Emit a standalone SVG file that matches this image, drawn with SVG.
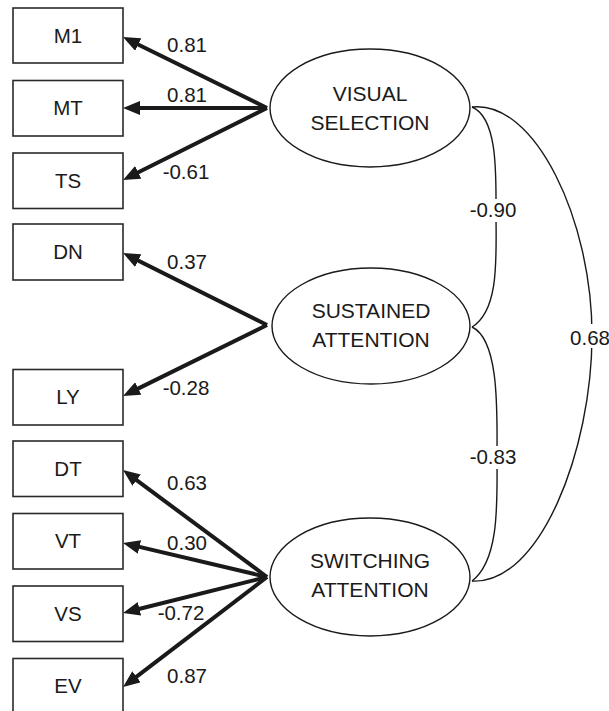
<svg xmlns="http://www.w3.org/2000/svg" width="609" height="711" viewBox="0 0 609 711">
<style>
.box{fill:#fff;stroke:#2a2a2a;stroke-width:1.6}
.lat{fill:#fff;stroke:#1a1a1a;stroke-width:1.4}
.t{font-family:"Liberation Sans",Arial,sans-serif;font-size:20.5px;fill:#1a1a1a;text-anchor:middle}
.lt{font-family:"Liberation Sans",Arial,sans-serif;font-size:21px;fill:#1a1a1a;text-anchor:middle}
.arr{fill:none;stroke:#1a1a1a;stroke-width:4;marker-end:url(#ah)}
.cor{fill:none;stroke:#1a1a1a;stroke-width:1.4}
.bg{fill:#fff}
</style>
<defs>
<marker id="ah" viewBox="0 0 17 14" markerWidth="17" markerHeight="14" markerUnits="userSpaceOnUse" refX="11" refY="7" orient="auto">
<path d="M0,0 L17,7 L0,14 z" fill="#1a1a1a"/>
</marker>
</defs>
<g id="connectors">
<path class="arr" d="M267,108 L128.4,39.7"/>
<path class="arr" d="M267,108 L129,108"/>
<path class="arr" d="M267,108 L128.4,177.3"/>
<path class="arr" d="M267,325 L128.4,255.7"/>
<path class="arr" d="M267,325 L128.4,393.4"/>
<path class="arr" d="M267,577 L127.8,473.6"/>
<path class="arr" d="M267,577 L128.8,544.4"/>
<path class="arr" d="M267,577 L128.8,611.5"/>
<path class="arr" d="M267,577 L127.8,683.4"/>
<path class="cor" d="M472,107 C498,118 496,175 496,212 C496,255 500,310 472,327"/>
<path class="cor" d="M472,327 C500,340 497,415 497,458 C497,500 500,560 472,581"/>
<path class="cor" d="M472,107 C535,100 592,220 592,335 C592,450 540,585 472,581"/>
<rect class="bg" x="474" y="199" width="40" height="23"/>
<rect class="bg" x="474" y="446" width="40" height="23"/>
<rect class="bg" x="570" y="324" width="39" height="24"/>
<text class="t" x="187" y="52">0.81</text>
<text class="t" x="187" y="102">0.81</text>
<text class="t" x="186" y="179">-0.61</text>
<text class="t" x="187" y="269">0.37</text>
<text class="t" x="186" y="395">-0.28</text>
<text class="t" x="187" y="490">0.63</text>
<text class="t" x="187" y="550">0.30</text>
<text class="t" x="181" y="620">-0.72</text>
<text class="t" x="187" y="683">0.87</text>
<text class="t" x="493" y="217">-0.90</text>
<text class="t" x="493" y="464">-0.83</text>
<text class="t" x="590" y="345">0.68</text>
</g>
<g id="M1"><rect class="box" x="13" y="8" width="110" height="55"/><text class="t" x="68" y="43">M1</text></g>
<g id="MT"><rect class="box" x="13" y="80.5" width="110" height="55.5"/><text class="t" x="68" y="115">MT</text></g>
<g id="TS"><rect class="box" x="13" y="153" width="110" height="55.5"/><text class="t" x="68" y="188">TS</text></g>
<g id="DN"><rect class="box" x="13" y="224" width="110" height="56"/><text class="t" x="68" y="259">DN</text></g>
<g id="LY"><rect class="box" x="13" y="369.5" width="110" height="55.5"/><text class="t" x="68" y="404">LY</text></g>
<g id="DT"><rect class="box" x="13" y="441" width="110" height="55.5"/><text class="t" x="68" y="476">DT</text></g>
<g id="VT"><rect class="box" x="13" y="513.5" width="110" height="55.5"/><text class="t" x="68" y="548">VT</text></g>
<g id="VS"><rect class="box" x="13" y="586" width="110" height="55.5"/><text class="t" x="68" y="621">VS</text></g>
<g id="EV"><rect class="box" x="13" y="658.5" width="110" height="56"/><text class="t" x="68" y="693">EV</text></g>
<g id="visual_selection"><ellipse class="lat" cx="370" cy="108" rx="100" ry="59"/><text class="lt" x="370" y="100.5">VISUAL</text><text class="lt" x="370" y="129.5">SELECTION</text></g>
<g id="sustained_attention"><ellipse class="lat" cx="371" cy="326" rx="99" ry="58"/><text class="lt" x="371" y="318">SUSTAINED</text><text class="lt" x="371" y="347">ATTENTION</text></g>
<g id="switching_attention"><ellipse class="lat" cx="370" cy="577" rx="100" ry="59"/><text class="lt" x="370" y="568">SWITCHING</text><text class="lt" x="370" y="597">ATTENTION</text></g>
</svg>
